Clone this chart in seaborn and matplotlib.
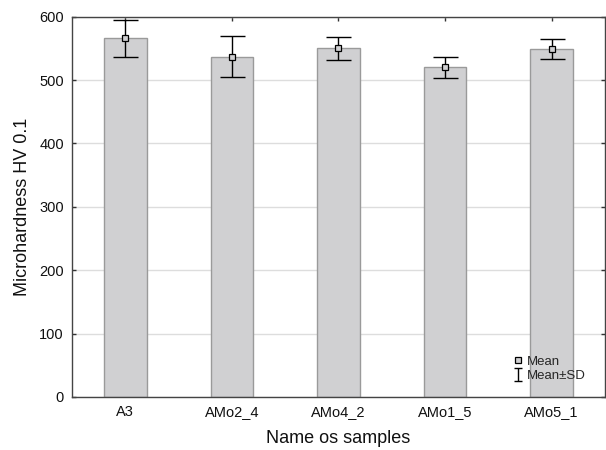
import numpy as np
import pandas as pd
import matplotlib.pyplot as plt
import seaborn as sns

# Values
samples = ['A3', 'AMo2_4', 'AMo4_2', 'AMo1_5', 'AMo5_1']
mean_hv = [566, 537, 550, 520, 549]
sd_hv = [29, 33, 18.5, 17, 16.5]

data = pd.DataFrame({'sample': samples, 'hv': mean_hv, 'sd': sd_hv})

sns.set_style('white')
plt.rcParams['font.family'] = ['Liberation Sans', 'DejaVu Sans']

fig = plt.figure(figsize=(6.06, 4.5), dpi=100)
ax = fig.add_axes([0.119, 0.118, 0.879, 0.845])

ax.grid(axis='y', color='#dddddd', linewidth=1)
ax.set_axisbelow(True)

sns.barplot(data=data, x='sample', y='hv', ax=ax, errorbar=None, width=0.4,
            color='#d0d0d2', edgecolor='#9a9a9a', linewidth=1, saturation=1)

pos = range(len(samples))
ax.errorbar(pos, data['hv'], yerr=data['sd'], fmt='none', ecolor='black',
            elinewidth=1, capsize=9, capthick=1)
mean_h, = ax.plot(pos, data['hv'], 's', ms=5, mfc='#d0d0d2', mec='black', mew=0.9,
                  linestyle='none')

# small legend proxy for the error bar symbol
sd_h = ax.errorbar([np.nan], [np.nan], yerr=[1], fmt='none', ecolor='black',
                   elinewidth=1, capsize=3, capthick=1)

ax.set_ylim(0, 600)
ax.set_xlim(-0.5, 4.5)
ax.set_yticks([0, 100, 200, 300, 400, 500, 600])
ax.tick_params(direction='in', length=3, width=1, labelsize=10.5, color='#333333',
               labelcolor='#111111', top=True, right=True, bottom=True, left=True, pad=6)
for s in ax.spines.values():
    s.set_color('#444444')
    s.set_linewidth(1)

ax.set_xlabel('Name os samples', fontsize=13, labelpad=8, color='#111111')
ax.set_ylabel('Microhardness HV 0.1', fontsize=13, labelpad=6, color='#111111')

ax.legend([mean_h, sd_h], ['Mean', 'Mean±SD'], loc='lower right',
          bbox_to_anchor=(0.975, 0.025), frameon=False, fontsize=9.5,
          handlelength=0.8, handletextpad=0.3, labelspacing=0.15, borderaxespad=0)

plt.savefig('out.png', dpi=100)
